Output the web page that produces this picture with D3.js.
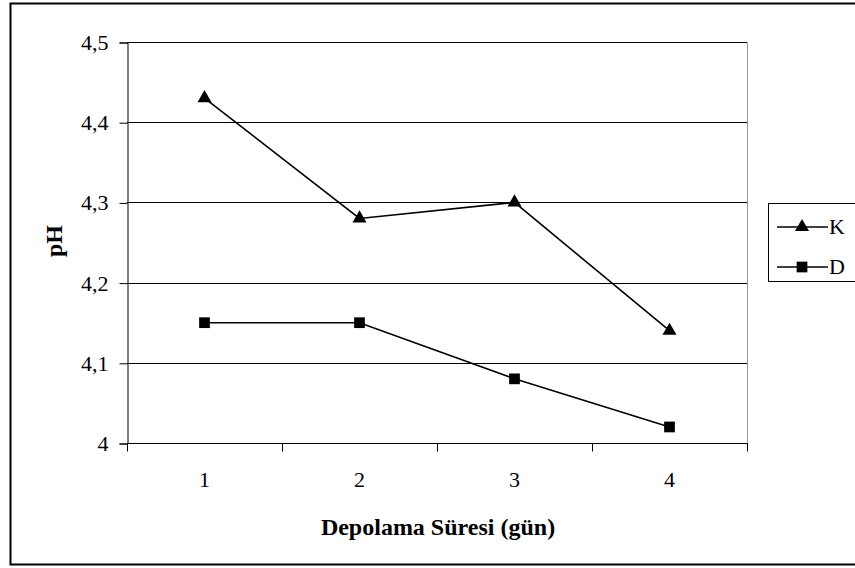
<!DOCTYPE html>
<html><head><meta charset="utf-8">
<script src="https://cdn.jsdelivr.net/npm/d3@7"></script>
<style>body{margin:0;background:#fff}svg{display:block}</style>
</head><body>
<svg id="c" width="855" height="568"></svg>
<script>
const categories = ["1","2","3","4"];
const seriesNames = ["K","D"];
const valuesK = [4.43, 4.28, 4.30, 4.14];
const valuesD = [4.15, 4.15, 4.08, 4.02];
const yTicks = [4, 4.1, 4.2, 4.3, 4.4, 4.5];
const yTickLabels = ["4","4,1","4,2","4,3","4,4","4,5"];
const xTitle = "Depolama Süresi (gün)";
const yTitle = "pH";

const FONT = "'Liberation Serif','Times New Roman',serif";
const FS = "22px";
const svg = d3.select("#c");
const L = 127, R = 747, T = 42, B = 443;
svg.append("rect").attr("x",10.5).attr("y",3.5).attr("width",860).attr("height",561)
  .attr("fill","#fff").attr("stroke","#000").attr("stroke-width",2);

const x = d3.scaleBand().domain(categories).range([L,R]).padding(0);
const y = d3.scaleLinear().domain([4,4.5]).range([B,T]);

// gridlines
svg.append("g").selectAll("line").data(yTicks.slice(1)).join("line")
  .attr("x1",L).attr("x2",R).attr("y1",d=>Math.round(y(d))+0.5).attr("y2",d=>Math.round(y(d))+0.5)
  .attr("stroke","#000").attr("stroke-width",1);
// right plot border
svg.append("line").attr("x1",R+0.5).attr("x2",R+0.5).attr("y1",T).attr("y2",B).attr("stroke","#999");

// y axis
const yAxis = d3.axisLeft(y).tickValues(yTicks).tickFormat((d,i)=>yTickLabels[i]).tickSize(8).tickPadding(11);
const gy = svg.append("g").attr("transform",`translate(${L+0.5},0.5)`).call(yAxis)
  .attr("font-family",FONT).attr("font-size",FS);
gy.selectAll("text").attr("fill","#000");
gy.selectAll("line,path").attr("stroke","#000");

// x axis
const xAxis = d3.axisBottom(x).tickSize(0).tickPadding(28);
const gx = svg.append("g").attr("transform",`translate(0,${B+0.5})`).call(xAxis)
  .attr("font-family",FONT).attr("font-size",FS);
gx.select(".domain").attr("d",`M${L},0H${R+1}`).attr("stroke","#000");
gx.selectAll("text").attr("fill","#000");
const bounds = categories.map(c=>x(c)).concat([x(categories[categories.length-1])+x.bandwidth()]);
gx.selectAll(".bt").data(bounds).join("line").attr("class","bt")
  .attr("x1",d=>Math.round(d)+0.5).attr("x2",d=>Math.round(d)+0.5).attr("y1",0).attr("y2",8).attr("stroke","#000");

// titles
svg.append("text").attr("x",438).attr("y",535).attr("text-anchor","middle")
  .attr("font-family",FONT).attr("font-size","24px").attr("font-weight","bold").text(xTitle);
svg.append("text").attr("transform",`translate(62,241) rotate(-90)`).attr("text-anchor","middle")
  .attr("font-family",FONT).attr("font-size","24px").attr("font-weight","bold").text(yTitle);

const cx = c => x(c) + x.bandwidth()/2;
const line = d3.line().x((d,i)=>cx(categories[i])).y(d=>y(d));
const tri = d3.symbol().type(d3.symbolTriangle).size(85);
const sq = d3.symbol().type(d3.symbolSquare).size(115);

function drawSeries(vals, sym){
  svg.append("path").datum(vals).attr("d",line).attr("fill","none").attr("stroke","#000").attr("stroke-width",1.6);
  svg.append("g").selectAll("path").data(vals).join("path")
    .attr("transform",(d,i)=>`translate(${cx(categories[i])},${y(d)})`).attr("d",sym).attr("fill","#000");
}
drawSeries(valuesK, tri);
drawSeries(valuesD, sq);

// legend
const lg = svg.append("g");
lg.append("rect").attr("x",768.5).attr("y",203.5).attr("width",120).attr("height",78).attr("fill","#fff").attr("stroke","#000");
const lyy = [227, 267];
const syms = [tri, sq];
seriesNames.forEach((n,i)=>{
  lg.append("line").attr("x1",777).attr("x2",828).attr("y1",lyy[i]).attr("y2",lyy[i]).attr("stroke","#000").attr("stroke-width",1.6);
  lg.append("path").attr("transform",`translate(802,${lyy[i]})`).attr("d",syms[i]).attr("fill","#000");
  lg.append("text").attr("x",829).attr("y",lyy[i]+7).attr("font-family",FONT).attr("font-size",FS).text(n);
});
</script>
</body></html>
